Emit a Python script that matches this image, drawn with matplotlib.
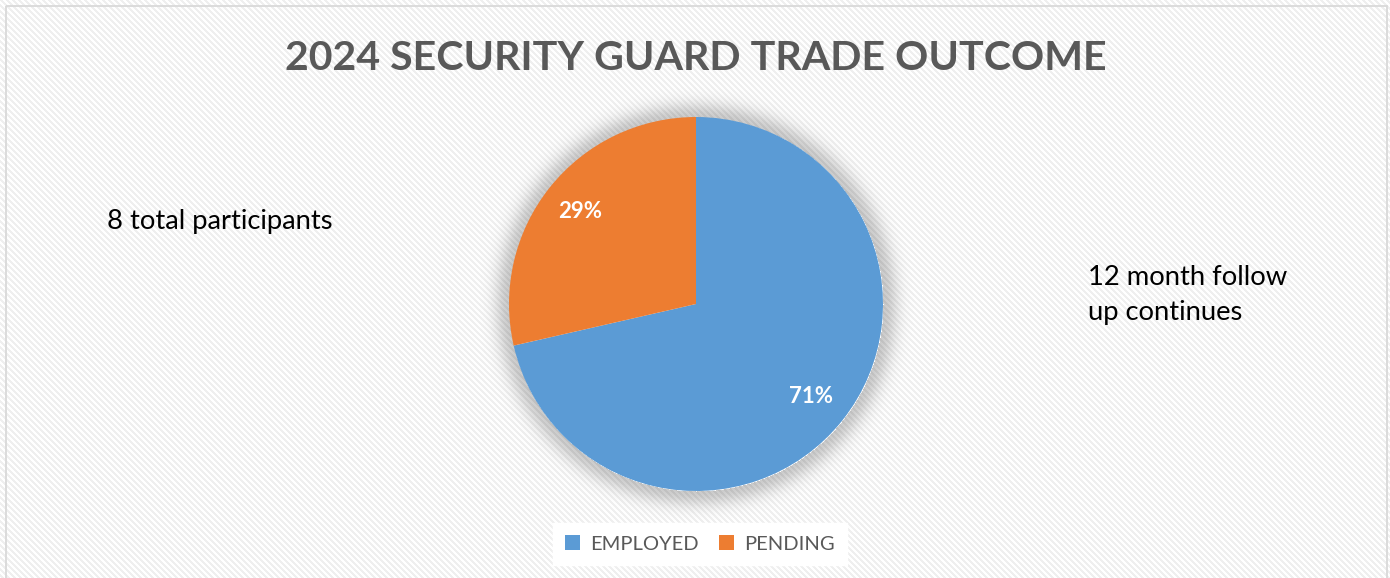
import numpy as np
import matplotlib
matplotlib.use("Agg")
import matplotlib.pyplot as plt
from matplotlib.patches import Rectangle

# Outcome data
categories = ["EMPLOYED", "PENDING"]
counts = [5, 2]
colors = ["#5B9BD5", "#ED7D31"]

title = "2024 SECURITY GUARD TRADE OUTCOME"
note_left = "8 total participants"
note_right = "12 month follow\nup continues"

W, H, DPI = 1390, 578, 100
FONT = "Lato"

fig = plt.figure(figsize=(W / DPI, H / DPI), dpi=DPI)
fig.patch.set_facecolor("white")

# Pie geometry in pixels
cx, cy, R = 696, 304, 187

# Background: light diagonal stripes plus a soft shadow around the pie
bg = fig.add_axes([0, 0, 1, 1])
bg.set_axis_off()
yy, xx = np.mgrid[0:H, 0:W]
stripes = ((xx - yy) % 6) < 3
img = np.ones((H, W, 3))
img[stripes] = 0.94
rr = np.hypot(xx - cx, yy - cy)
shadow = np.where(rr > R, 0.2 * np.exp(-((rr - R) / 15.0) ** 2), 0.0)
img *= (1 - shadow)[..., None]
bg.imshow(img, extent=[0, W, H, 0], interpolation="nearest", aspect="auto")
bg.set_xlim(0, W)
bg.set_ylim(H, 0)
# chart frame
bg.add_patch(Rectangle((5.5, 5.5), W - 9, H + 10, fill=False,
                       edgecolor="#d9d9d9", linewidth=1.3))

# Pie
ax = fig.add_axes([(cx - R) / W, (H - cy - R) / H, 2 * R / W, 2 * R / H])
wedges, texts, autotexts = ax.pie(
    counts, colors=colors, startangle=90, counterclock=False,
    radius=1.0, autopct=lambda p: f"{p:.0f}%", pctdistance=0.79,
    wedgeprops=dict(linewidth=0),
    textprops=dict(color="white", fontsize=16, fontweight="bold", family=FONT),
)
ax.set_xlim(-1, 1)
ax.set_ylim(-1, 1)
ax.set_aspect("equal")
ax.set_axis_off()

# Title and notes
fig.text(cx / W, 1 - 58 / H, title, ha="center", va="center",
         fontsize=29.6, fontweight="bold", color="#595959", family=FONT)
fig.text(107 / W, 1 - 222 / H, note_left, ha="left", va="center",
         fontsize=19.7, color="black", family=FONT)
fig.text(1088 / W, 1 - 295 / H, note_right, ha="left", va="center",
         fontsize=19.7, color="black", family=FONT, linespacing=1.54)

# Legend
leg = fig.legend(wedges, categories, loc="center", bbox_to_anchor=(700 / W, 1 - 544 / H),
                 ncol=2, frameon=True, fancybox=False, framealpha=1,
                 edgecolor="white", handlelength=0.75, handleheight=0.75,
                 columnspacing=1.0, handletextpad=0.5, borderpad=0.6,
                 prop=dict(family=FONT, size=14.5))
for t in leg.get_texts():
    t.set_color("#595959")

fig.savefig("out.png", dpi=DPI)
